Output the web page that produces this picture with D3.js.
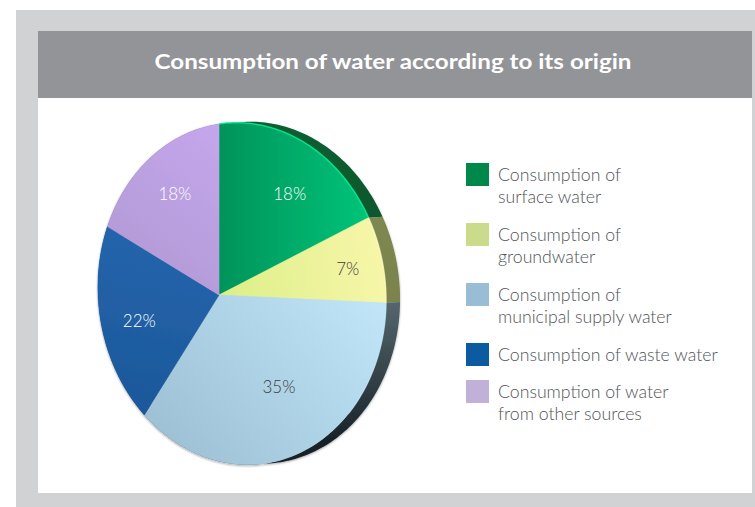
<!DOCTYPE html>
<html>
<head>
<meta charset="utf-8">
<script src="https://cdn.jsdelivr.net/npm/d3@7"></script>
<style>
  html, body { margin: 0; padding: 0; background: #ffffff; }
  svg { display: block; }
</style>
</head>
<body>
<svg id="chart" width="755" height="507"></svg>
<script>
// ---- data ----
const title = "Consumption of water according to its origin";
const categories = [
  "Consumption of surface water",
  "Consumption of groundwater",
  "Consumption of municipal supply water",
  "Consumption of waste water",
  "Consumption of water from other sources"
];
const legendLines = [
  ["Consumption of", "surface water"],
  ["Consumption of", "groundwater"],
  ["Consumption of", "municipal supply water"],
  ["Consumption of waste water"],
  ["Consumption of water", "from other sources"]
];
const shares = [18, 7, 35, 22, 18];
const shareLabels = ["18%", "7%", "35%", "22%", "18%"];

// ---- styling ----
const W = 755, H = 507;
const frameGrey = "#d1d2d4", barGrey = "#939498";
const legendColors = ["#00874a", "#cadc8b", "#99bdd4", "#0c5aa0", "#c1b1d9"];
const faceStops = [
  ["#00935a", "#00c97c"],
  ["#dcef88", "#f8f6aa"],
  ["#c2e8fa", "#9fc1d6"],
  ["#2465ad", "#1b5698"],
  ["#c4a6ec", "#ae98d0"]
];
const sideStops = [
  ["#0d5e31", "#0a5129"],
  ["#858d57", "#7a824c"],
  ["#56676f", "#162026"],
  ["#123a66", "#0e2f55"],
  ["#6e5b88", "#5e4d76"]
];
const labelColors = ["#ffffff", "#3c3c3c", "#3c3c3c", "#ffffff", "#ffffff"];
const fontFamily = "Lato, 'Open Sans', sans-serif";

const svg = d3.select("#chart");
const defs = svg.append("defs");

// ---- frame and title bar ----
svg.append("rect").attr("x", 16).attr("y", 10).attr("width", W - 16).attr("height", H - 10).attr("fill", frameGrey);
svg.append("rect").attr("x", 38).attr("y", 98).attr("width", 714).attr("height", 395).attr("fill", "#ffffff");
svg.append("rect").attr("x", 38).attr("y", 31).attr("width", 714).attr("height", 67).attr("fill", barGrey);
svg.append("text")
  .attr("x", 393).attr("y", 69)
  .attr("text-anchor", "middle")
  .attr("font-family", fontFamily)
  .attr("font-weight", 700)
  .attr("font-size", 20)
  .attr("fill", "#ffffff")
  .attr("textLength", 477)
  .attr("lengthAdjust", "spacingAndGlyphs")
  .text(title);

// ---- tilted pie: perspective projection of a unit disc ----
// (u, v) on the disc -> screen, with u to the right and v downward
const P = { a: 105.4, b: 3.0, c: 219, d: -40.4, e: 172.7, f: 295, g: -0.1597, h: 0.0138 };
function project(theta, r) {
  const u = r * Math.sin(theta), v = -r * Math.cos(theta);
  const w = P.g * u + P.h * v + 1;
  return [(P.a * u + P.b * v + P.c) / w, (P.d * u + P.e * v + P.f) / w];
}
const center = project(0, 0);
const depth = [14, -1];   // offset of the back face (pie thickness)

const arcs = d3.pie().sort(null).value(d => d)(shares);

function rimPoints(a0, a1) {
  const n = Math.max(4, Math.ceil((a1 - a0) / 0.02));
  return d3.range(n + 1).map(i => project(a0 + (a1 - a0) * i / n, 1));
}
const line = d3.line();

// gradients
arcs.forEach((s, i) => {
  const fg = defs.append("linearGradient").attr("id", "face" + i).attr("gradientUnits", "userSpaceOnUse");
  const ends = [
    [219, 200, 385, 200],
    [219, 290, 388, 260],
    [390, 290, 190, 465],
    [200, 230, 160, 440],
    [220, 130, 100, 300]
  ][i];
  fg.attr("x1", ends[0]).attr("y1", ends[1]).attr("x2", ends[2]).attr("y2", ends[3]);
  fg.append("stop").attr("offset", "0%").attr("stop-color", faceStops[i][0]);
  fg.append("stop").attr("offset", "100%").attr("stop-color", faceStops[i][1]);

  const sg = defs.append("linearGradient").attr("id", "side" + i).attr("gradientUnits", "userSpaceOnUse")
    .attr("x1", 0).attr("y1", i === 2 ? 300 : 130).attr("x2", 0).attr("y2", i === 2 ? 445 : 310);
  sg.append("stop").attr("offset", "0%").attr("stop-color", sideStops[i][0]);
  sg.append("stop").attr("offset", "100%").attr("stop-color", sideStops[i][1]);
});

const shadow = defs.append("filter").attr("id", "pieShadow").attr("x", "-10%").attr("y", "-10%").attr("width", "120%").attr("height", "120%");
shadow.append("feDropShadow").attr("dx", 0).attr("dy", 1).attr("stdDeviation", 1).attr("flood-color", "#000").attr("flood-opacity", 0.35);

const pie = svg.append("g").attr("filter", "url(#pieShadow)");

// side walls (thickness), drawn behind the faces
pie.selectAll("path.side").data(arcs).join("path")
  .attr("class", "side")
  .attr("fill", (d, i) => `url(#side${i})`)
  .attr("d", d => {
    const front = rimPoints(d.startAngle, d.endAngle);
    const back = front.map(p => [p[0] + depth[0], p[1] + depth[1]]).reverse();
    return line(front.concat(back)) + "Z";
  });

// front faces
pie.selectAll("path.face").data(arcs).join("path")
  .attr("class", "face")
  .attr("fill", (d, i) => `url(#face${i})`)
  .attr("stroke", (d, i) => `url(#face${i})`)
  .attr("stroke-width", 0.6)
  .attr("d", d => line([center].concat(rimPoints(d.startAngle, d.endAngle))) + "Z");

// soft highlight along the lit upper-right rim
const litEnd = Math.PI * 0.7;
pie.selectAll("path.rim").data(arcs.filter(d => d.startAngle < litEnd)).join("path")
  .attr("class", "rim")
  .attr("fill", "none")
  .attr("stroke", d => d3.color(faceStops[d.index][1]).brighter(0.6))
  .attr("stroke-opacity", d => d.index === 0 ? 0.7 : 0.35)
  .attr("stroke-width", 1.5)
  .attr("d", d => line(rimPoints(d.startAngle, Math.min(d.endAngle, litEnd))));

// percentage labels
const rightHalf = project(Math.PI / 2, 1)[0] - center[0];
const leftHalf = center[0] - project(Math.PI * 1.5, 1)[0];
const vertHalf = center[1] - project(0, 1)[1];
svg.selectAll("text.pct").data(arcs).join("text")
  .attr("class", "pct")
  .attr("x", d => {
    const m = (d.startAngle + d.endAngle) / 2, s = Math.sin(m);
    return center[0] + s * (s > 0 ? 0.79 * rightHalf : 0.68 * leftHalf);
  })
  .attr("y", d => {
    const m = (d.startAngle + d.endAngle) / 2, c = Math.cos(m);
    return center[1] - c * (c > 0 ? 0.70 : 0.60) * vertHalf;
  })
  .attr("text-anchor", "middle")
  .attr("dominant-baseline", "central")
  .attr("font-family", fontFamily)
  .attr("font-weight", 300)
  .attr("font-size", 17)
  .attr("fill", (d, i) => labelColors[i])
  .text((d, i) => shareLabels[i]);

// ---- legend ----
const legend = svg.append("g").attr("transform", "translate(466,163)");
let yCursor = 0;
legendLines.forEach((lines, i) => {
  const g = legend.append("g").attr("transform", `translate(0,${yCursor})`);
  g.append("rect").attr("width", 23).attr("height", 23).attr("fill", legendColors[i]).append("title").text(categories[i]);
  const t = g.append("text")
    .attr("font-family", fontFamily)
    .attr("font-weight", 300)
    .attr("font-size", 17.7)
    .attr("fill", "#505457");
  lines.forEach((ln, j) => {
    t.append("tspan").attr("x", 32).attr("y", 18 + j * 22).text(ln);
  });
  yCursor += lines.length * 23 + 14;
});
</script>
</body>
</html>
